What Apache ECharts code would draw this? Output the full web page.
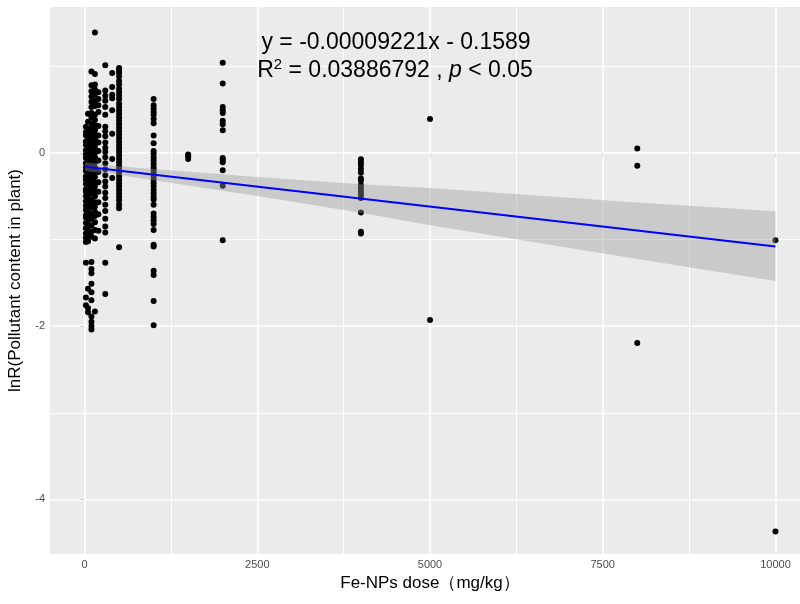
<!DOCTYPE html>
<html>
<head>
<meta charset="utf-8">
<script src="https://cdn.jsdelivr.net/npm/echarts@6/dist/echarts.min.js"></script>
<style>
html,body{margin:0;padding:0;background:#fff;}
#chart{width:800px;height:604px;}
</style>
</head>
<body>
<div id="chart"></div>
<script>
// ---- data ----
const xTickValues = [0, 2500, 5000, 7500, 10000];
const xMinorValues = [1250, 3750, 6250, 8750];
const yTickValues = [-4, -2, 0];
const yMinorValues = [-3, -1, 1];

const doses = [20, 50, 100, 150, 200, 300, 400, 500, 1000, 1500, 2000, 4000, 5000, 8000, 10000];

const lnR_20 = [0.3, 0.24, 0.2, 0.13, 0.09, 0.03, -0.02, -0.06, -0.12, -0.17, -0.21, -0.27, -0.31, -0.36, -0.42, -0.45, -0.5, -0.56, -0.61, -0.66, -0.72, -0.75, -0.81, -0.87, -0.93, -0.98, -1.03, -1.27, -1.67, -1.76];
const lnR_50 = [0.45, 0.36, 0.27, 0.21, 0.16, 0.11, 0.05, 0.0, -0.04, -0.09, -0.14, -0.19, -0.24, -0.28, -0.33, -0.39, -0.44, -0.48, -0.53, -0.59, -0.64, -0.69, -0.74, -0.79, -0.86, -0.91, -0.96, -1.02, -1.57, -1.79, -1.84];
const lnR_100 = [0.94, 0.78, 0.71, 0.65, 0.59, 0.53, 0.46, 0.41, 0.34, 0.29, 0.25, 0.19, 0.14, 0.08, 0.03, -0.03, -0.07, -0.13, -0.19, -0.25, -0.3, -0.36, -0.41, -0.47, -0.54, -0.58, -0.63, -0.7, -0.76, -0.84, -0.91, -0.97, -1.26, -1.34, -1.39, -1.51, -1.61, -1.7, -1.89, -1.95, -2.0, -2.04];
const lnR_150 = [1.39, 0.91, 0.79, 0.73, 0.67, 0.6, 0.54, 0.44, 0.38, 0.32, 0.26, 0.21, 0.16, 0.1, 0.06, 0.0, -0.05, -0.11, -0.17, -0.22, -0.28, -0.34, -0.39, -0.45, -0.5, -0.57, -0.62, -0.68, -0.73, -0.8, -0.89, -0.99, -1.83];
const lnR_200 = [0.7, 0.62, 0.55, 0.47, 0.31, 0.2, 0.12, 0.02, -0.09, -0.22, -0.34, -0.45, -0.57, -0.71, -0.9];
const lnR_300 = [1.01, 0.72, 0.66, 0.6, 0.53, 0.44, 0.3, 0.25, 0.19, 0.12, 0.06, 0.01, -0.05, -0.12, -0.19, -0.26, -0.33, -0.39, -0.46, -0.52, -0.6, -0.67, -0.76, -0.85, -0.92, -1.27, -1.63];
const lnR_400 = [0.92, 0.76, 0.67, 0.63, 0.49, 0.22, -0.07, -0.29];
const lnR_500 = [0.98, 0.95, 0.92, 0.88, 0.83, 0.79, 0.74, 0.7, 0.66, 0.62, 0.57, 0.53, 0.49, 0.45, 0.41, 0.37, 0.33, 0.29, 0.25, 0.21, 0.17, 0.13, 0.09, 0.05, 0.01, -0.03, -0.07, -0.11, -0.15, -0.19, -0.23, -0.27, -0.31, -0.35, -0.39, -0.43, -0.47, -0.51, -0.55, -0.6, -0.64, -1.09];
const lnR_1000 = [0.62, 0.55, 0.51, 0.47, 0.44, 0.39, 0.34, 0.2, 0.11, 0.02, -0.01, -0.05, -0.09, -0.13, -0.17, -0.2, -0.24, -0.28, -0.31, -0.35, -0.39, -0.43, -0.47, -0.51, -0.54, -0.6, -0.7, -0.74, -0.78, -0.82, -0.89, -1.06, -1.08, -1.36, -1.41, -1.71, -1.99];
const lnR_1500 = [-0.02, -0.04, -0.07];
const lnR_2000 = [1.04, 0.8, 0.53, 0.49, 0.46, 0.37, 0.33, 0.26, -0.06, -0.08, -0.11, -0.2, -0.38, -1.01];
const lnR_4000 = [-0.075, -0.106, -0.14, -0.187, -0.23, -0.295, -0.32, -0.37, -0.41, -0.45, -0.48, -0.52, -0.69, -0.91, -0.93];
const lnR_5000 = [0.39, -1.93];
const lnR_8000 = [0.05, -0.15, -2.195];
const lnR_10000 = [-1.01, -4.37];

const lnRGroups = [lnR_20, lnR_50, lnR_100, lnR_150, lnR_200, lnR_300, lnR_400, lnR_500,
  lnR_1000, lnR_1500, lnR_2000, lnR_4000, lnR_5000, lnR_8000, lnR_10000];

// fitted line (y = -0.00009221x - 0.1589) end points
const fitX = [10, 10000];
const fitY = [-0.160, -1.081];

// confidence band
const bandX = [10, 500, 1000, 2000, 2500, 4000, 5000, 8000, 10000];
const bandUpper = [-0.11, -0.155, -0.186, -0.248, -0.279, -0.363, -0.405, -0.572, -0.675];
const bandLower = [-0.21, -0.255, -0.316, -0.438, -0.499, -0.693, -0.835, -1.225, -1.478];

// ---- build ----
const points = [];
lnRGroups.forEach((g, i) => g.forEach(v => points.push([doses[i], v])));

const chart = echarts.init(document.getElementById('chart'), null, {renderer: 'canvas'});
const FONT = '"Liberation Sans", Arial, sans-serif';

const gridLines = [];
xTickValues.forEach(v => gridLines.push({xAxis: v, lineStyle: {width: 1.6}}));
xMinorValues.forEach(v => gridLines.push({xAxis: v, lineStyle: {width: 1.0}}));
yTickValues.forEach(v => gridLines.push({yAxis: v, lineStyle: {width: 1.6}}));
yMinorValues.forEach(v => gridLines.push({yAxis: v, lineStyle: {width: 1.0}}));

const option = {
  animation: false,
  backgroundColor: '#FFFFFF',
  grid: {left: 50, right: -10, top: 7, bottom: 50, show: true, backgroundColor: '#EBEBEB', borderWidth: 0,
    containLabel: false, outerBoundsMode: 'none'},
  xAxis: {
    type: 'value', min: -500, max: 10500,
    axisLine: {show: false},
    splitLine: {show: false},
    axisTick: {show: true, customValues: xTickValues, length: 4, lineStyle: {color: '#333333', width: 1}},
    axisLabel: {customValues: xTickValues, color: '#4D4D4D', fontSize: 11, margin: 5, fontFamily: FONT,
      formatter: v => String(v)},
    name: 'Fe-NPs dose（mg/kg）', nameLocation: 'middle', nameGap: 18,
    nameTextStyle: {color: '#000', fontSize: 17, fontFamily: FONT}
  },
  yAxis: {
    type: 'value', min: -4.63, max: 1.683,
    axisLine: {show: false},
    splitLine: {show: false},
    axisTick: {show: true, customValues: yTickValues, length: 4, lineStyle: {color: '#333333', width: 1}},
    axisLabel: {customValues: yTickValues, color: '#4D4D4D', fontSize: 11, margin: 5, fontFamily: FONT,
      formatter: v => String(v)},
    name: 'lnR(Pollutant content in plant)', nameLocation: 'middle', nameGap: 26, nameRotate: 90,
    nameTextStyle: {color: '#000', fontSize: 17, fontFamily: FONT}
  },
  series: [
    {
      type: 'line', data: [[0, 0]], showSymbol: false, symbol: 'none',
      lineStyle: {opacity: 0}, z: 1, silent: true,
      markLine: {silent: true, symbol: 'none', label: {show: false}, z: 1,
        lineStyle: {color: '#FFFFFF', type: 'solid'}, data: gridLines, animation: false}
    },
    {
      type: 'scatter', data: points, symbol: 'circle', symbolSize: 6, z: 2,
      itemStyle: {color: '#000000', opacity: 1, borderWidth: 0}
    },
    {
      type: 'custom', z: 3, silent: true,
      data: bandX.map((x, i) => [x, bandUpper[i], bandLower[i]]),
      encode: {x: 0, y: [1, 2]},
      renderItem: function (params, api) {
        if (params.dataIndex !== 0) return null;
        const pts = [];
        for (let i = 0; i < bandX.length; i++) pts.push(api.coord([bandX[i], bandUpper[i]]));
        for (let i = bandX.length - 1; i >= 0; i--) pts.push(api.coord([bandX[i], bandLower[i]]));
        return {type: 'polygon', shape: {points: pts}, style: {fill: 'rgba(153,153,153,0.4)'}};
      }
    },
    {
      type: 'line', data: fitX.map((x, i) => [x, fitY[i]]), z: 4,
      showSymbol: false, symbol: 'none',
      lineStyle: {color: '#0000FF', width: 2}
    }
  ],
  graphic: [
    {type: 'text', x: 396, y: 43, z: 10,
      style: {text: 'y = -0.00009221x - 0.1589', font: '23px ' + FONT, fill: '#000', align: 'center', verticalAlign: 'middle'}},
    {type: 'text', x: 395, y: 71, z: 10,
      style: {text: 'R{sup|2} = 0.03886792 , {it|p} < 0.05', font: '23px ' + FONT, fill: '#000', align: 'center', verticalAlign: 'middle',
        rich: {
          sup: {fontSize: 15, fontFamily: FONT, verticalAlign: 'top', lineHeight: 27, fill: '#000'},
          it: {fontStyle: 'italic', fontSize: 23, fontFamily: FONT, fill: '#000'}
        }}}
  ]
};
chart.setOption(option);
</script>
</body>
</html>
